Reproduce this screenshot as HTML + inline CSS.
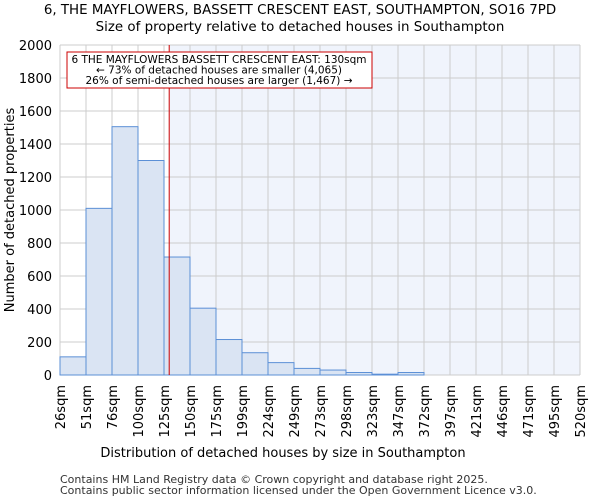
<!DOCTYPE html>
<html><head><meta charset="utf-8"><style>
body{margin:0;background:#fff;font-family:"DejaVu Sans","Liberation Sans",sans-serif;}
</style></head><body>
<svg id="c" width="600" height="500" xmlns="http://www.w3.org/2000/svg" font-family="DejaVu Sans, Liberation Sans, sans-serif">
<text x="300" y="14" text-anchor="middle" font-size="13.4">6, THE MAYFLOWERS, BASSETT CRESCENT EAST, SOUTHAMPTON, SO16 7PD</text>
<text x="300" y="31" text-anchor="middle" font-size="13.4">Size of property relative to detached houses in Southampton</text>
<g id="plot"></g>
<text x="283" y="457" text-anchor="middle" font-size="13">Distribution of detached houses by size in Southampton</text>
<text transform="translate(14,210) rotate(-90)" text-anchor="middle" font-size="13">Number of detached properties</text>
<text x="60" y="483" font-size="11" fill="#333">Contains HM Land Registry data © Crown copyright and database right 2025.</text>
<text x="60" y="494" font-size="11" fill="#333">Contains public sector information licensed under the Open Government Licence v3.0.</text>
</svg>
<script>
const categories=["26sqm","51sqm","76sqm","100sqm","125sqm","150sqm","175sqm","199sqm","224sqm","249sqm","273sqm","298sqm","323sqm","347sqm","372sqm","397sqm","421sqm","446sqm","471sqm","495sqm","520sqm"];
const values=[110,1010,1505,1300,715,405,215,135,75,40,30,15,5,15,0,0,0,0,0,0];
const yTicks=[0,200,400,600,800,1000,1200,1400,1600,1800,2000];
const markerBin=4.2;
const NS="http://www.w3.org/2000/svg";
const g=document.getElementById('plot');
const L=60,R=580,T=45,B=375,yMax=2000;
const bw=(R-L)/values.length;
const X=i=>L+i*bw, Y=v=>B-(v/yMax)*(B-T);
function mk(t,a){const e=document.createElementNS(NS,t);for(const k in a)e.setAttribute(k,a[k]);g.appendChild(e);return e;}
const mx=X(markerBin);
let e=mk('rect',{x:mx,y:T,width:R-mx,height:B-T,fill:'#f0f4fc'});


for(let i=0;i<=values.length;i++){e=mk('line',{x1:X(i),x2:X(i),y1:T,y2:B,stroke:'#ccc','stroke-width':1});

}
yTicks.forEach(v=>{e=mk('line',{x1:L,x2:R,y1:Y(v),y2:Y(v),stroke:'#ccc','stroke-width':1});


e=mk('text',{x:L-8,y:Y(v)+5,'text-anchor':'end','font-size':13});e.textContent=v;

});
values.forEach((v,i)=>{if(v<=0)return;e=mk('rect',{x:X(i),y:Y(v),width:bw,height:B-Y(v),fill:'#dae4f3',stroke:'#5b8fd6','stroke-width':1});

});
categories.forEach((c,i)=>{e=mk('text',{transform:`translate(${X(i)+5},385) rotate(-90)`,'text-anchor':'end','font-size':13});e.textContent=c;

});
e=mk('line',{x1:mx,x2:mx,y1:T,y2:B,stroke:'#c00','stroke-width':1});


e=mk('rect',{x:67,y:52,width:305,height:36,fill:'#fff',stroke:'#c00','stroke-width':1});


["6 THE MAYFLOWERS BASSETT CRESCENT EAST: 130sqm","← 73% of detached houses are smaller (4,065)","26% of semi-detached houses are larger (1,467) →"].forEach((t,k)=>{
e=mk('text',{x:219,y:63+k*10.5,'text-anchor':'middle','font-size':10.5});e.textContent=t;

});
</script>
</body></html>
